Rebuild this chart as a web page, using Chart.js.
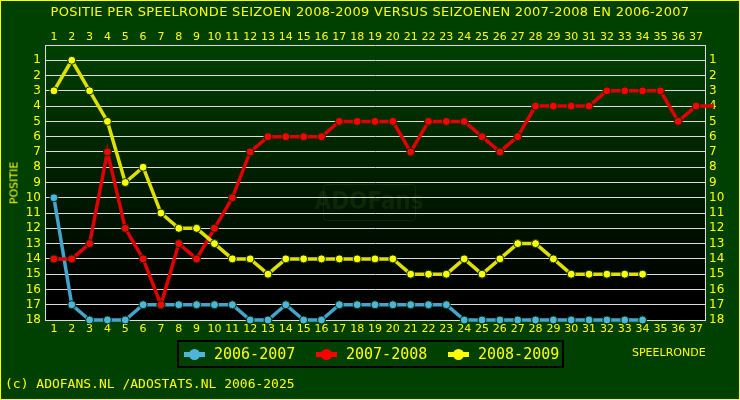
<!DOCTYPE html>
<html>
<head>
<meta charset="utf-8">
<script src="https://cdn.jsdelivr.net/npm/chart.js@4.4.0/dist/chart.umd.min.js"></script>
<style>
html, body { margin: 0; padding: 0; background: #004000; }
#wrap { position: relative; width: 740px; height: 400px; overflow: hidden; background: #004000; font-family: "DejaVu Sans", sans-serif; color: #ffff00; }
#frame { position: absolute; left: 0; top: 0; width: 740px; height: 400px; box-sizing: border-box; border: 1px solid #ffff00; pointer-events: none; }
canvas { position: absolute; left: 0; top: 0; }
.t { position: absolute; white-space: nowrap; }
#title { left: 0; width: 740px; top: 4px; text-align: center; font-size: 13px; letter-spacing: 0.3px; }
#ytitle { left: 14px; top: 183px; font-size: 11px; transform: translate(-50%, -50%) rotate(-90deg); }
#xtitle { left: 632px; top: 346px; font-size: 11px; }
#foot { left: 5px; top: 376px; font-family: "DejaVu Sans Mono", monospace; font-size: 13px; }
#legend { position: absolute; left: 177px; top: 340px; width: 387px; height: 28px; box-sizing: border-box; border: 2px solid #000; }
.li { position: absolute; top: 3px; font-family: "DejaVu Sans Mono", monospace; font-size: 15px; }
.mk { position: absolute; top: 7px; width: 21px; height: 11px; }
.mk .bar { position: absolute; left: 0; top: 3px; width: 21px; height: 5px; }
.mk .dot { position: absolute; left: 5px; top: 0; width: 11px; height: 11px; border-radius: 50%; }
</style>
</head>
<body>
<div id="wrap">
  <canvas id="chart" width="740" height="400"></canvas>
  <div class="t" id="title">POSITIE PER SPEELRONDE SEIZOEN 2008-2009 VERSUS SEIZOENEN 2007-2008 EN 2006-2007</div>
  <div class="t" id="ytitle">POSITIE</div>
  <div class="t" id="xtitle">SPEELRONDE</div>
  <div class="t" id="foot">(c) ADOFANS.NL /ADOSTATS.NL 2006-2025</div>
  <div id="legend"></div>
  <div id="frame"></div>
</div>
<script>
var rounds = [1, 2, 3, 4, 5, 6, 7, 8, 9, 10, 11, 12, 13, 14, 15, 16, 17, 18, 19, 20,
    21, 22, 23, 24, 25, 26, 27, 28, 29, 30, 31, 32, 33, 34, 35, 36, 37];
var positions = [1, 2, 3, 4, 5, 6, 7, 8, 9, 10, 11, 12, 13, 14, 15, 16, 17, 18];
var seasons = ['2006-2007', '2007-2008', '2008-2009'];
var seasonColors = ['#4fb4dc', '#ff0000', '#ffff00'];
var lineColors = ['#44a4cc', '#e00000', '#e0e000'];

var pos0607 = [10, 17, 18, 18, 18, 17, 17, 17, 17, 17, 17, 18, 18, 17, 18, 18, 17, 17, 17, 17,
    17, 17, 17, 18, 18, 18, 18, 18, 18, 18, 18, 18, 18, 18];
var pos0708 = [14, 14, 13, 7, 12, 14, 17, 13, 14, 12, 10, 7, 6, 6, 6, 6, 5, 5, 5, 5,
    7, 5, 5, 5, 6, 7, 6, 4, 4, 4, 4, 3, 3, 3, 3, 5, 4, 4];
var pos0809 = [3, 1, 3, 5, 9, 8, 11, 12, 12, 13, 14, 14, 15, 14, 14, 14, 14, 14, 14, 14,
    15, 15, 15, 14, 15, 14, 13, 13, 14, 15, 15, 15, 15, 15];

var seriesValues = [pos0607, pos0708, pos0809];
var yellow = '#ffff00';
var gridColor = '#dcdcdc';

// legend (html)
var legendEl = document.getElementById('legend');
var legendX = [5, 137, 269];
seasons.forEach(function(name, i) {
    var mk = document.createElement('div');
    mk.className = 'mk';
    mk.style.left = legendX[i] + 'px';
    mk.innerHTML = '<div class="bar" style="background:' + seasonColors[i] + '"></div>' +
        '<div class="dot" style="background:' + seasonColors[i] + '"></div>';
    legendEl.appendChild(mk);
    var tx = document.createElement('div');
    tx.className = 'li';
    tx.style.left = (legendX[i] + 30) + 'px';
    tx.textContent = name;
    legendEl.appendChild(tx);
});

var datasets = seriesValues.map(function(vals, i) {
    return {
        label: seasons[i],
        data: vals.map(function(v, k) { return { x: k + 1, y: v }; }),
        borderColor: lineColors[i],
        backgroundColor: seasonColors[i],
        borderWidth: 3.5,
        pointRadius: 4,
        pointBorderWidth: 1,
        pointBorderColor: '#003000',
        pointBackgroundColor: seasonColors[i],
        tension: 0,
        clip: false,
        order: 3 - i
    };
});

var bgPlugin = {
    id: 'plotBg',
    beforeDraw: function(chart) {
        var ctx = chart.ctx, a = chart.chartArea;
        var g = ctx.createLinearGradient(0, a.top, 0, a.bottom);
        g.addColorStop(0, '#004000');
        g.addColorStop(0.9, '#000000');
        g.addColorStop(1, '#000000');
        ctx.save();
        ctx.fillStyle = g;
        ctx.fillRect(a.left, a.top, a.right - a.left, a.bottom - a.top);
        // watermark
        ctx.strokeStyle = 'rgba(70,90,30,0.22)';
        ctx.lineWidth = 1;
        ctx.beginPath();
        ctx.roundRect(323.5, 184.5, 92, 36, 3);
        ctx.stroke();
        ctx.fillStyle = 'rgba(70,90,30,0.22)';
        ctx.font = 'bold 24px "DejaVu Sans Condensed", "DejaVu Sans", sans-serif';
        ctx.textAlign = 'center';
        ctx.textBaseline = 'middle';
        ctx.fillText('ADOFans', 369, 203);
        ctx.restore();
    }
};

function xAxis(position, pad) {
    return {
        type: 'linear',
        position: position,
        min: 0.5,
        max: 37.5,
        afterBuildTicks: function(s) { s.ticks = rounds.map(function(v) { return { value: v }; }); },
        afterFit: function(s) { s.height = 20; },
        grid: { display: false, drawTicks: false },
        border: { display: false },
        ticks: { color: yellow, font: { family: 'DejaVu Sans', size: 11 }, padding: pad, autoSkip: false, maxRotation: 0 }
    };
}

function yAxis(position, width, showGrid) {
    return {
        type: 'linear',
        position: position,
        reverse: true,
        min: 0,
        max: 18,
        afterBuildTicks: function(s) { s.ticks = [0].concat(positions).map(function(v) { return { value: v }; }); },
        afterFit: function(s) { s.width = width; },
        grid: { display: showGrid, color: gridColor, lineWidth: 1, drawTicks: false },
        border: { display: true, color: gridColor, width: 1 },
        ticks: {
            color: yellow,
            font: { family: 'DejaVu Sans', size: 12 },
            padding: 4,
            autoSkip: false,
            callback: function(v) { return v === 0 ? '' : v; }
        }
    };
}

new Chart(document.getElementById('chart'), {
    type: 'line',
    data: { datasets: datasets },
    options: {
        responsive: false,
        animation: false,
        layout: { padding: { top: 25, bottom: 60, left: 0, right: 0 } },
        plugins: { legend: { display: false }, tooltip: { enabled: false } },
        scales: {
            x: xAxis('bottom', 3),
            x2: xAxis('top', 1),
            y: yAxis('left', 45, true),
            y2: yAxis('right', 35, false)
        }
    },
    plugins: [bgPlugin]
});
</script>
</body>
</html>
